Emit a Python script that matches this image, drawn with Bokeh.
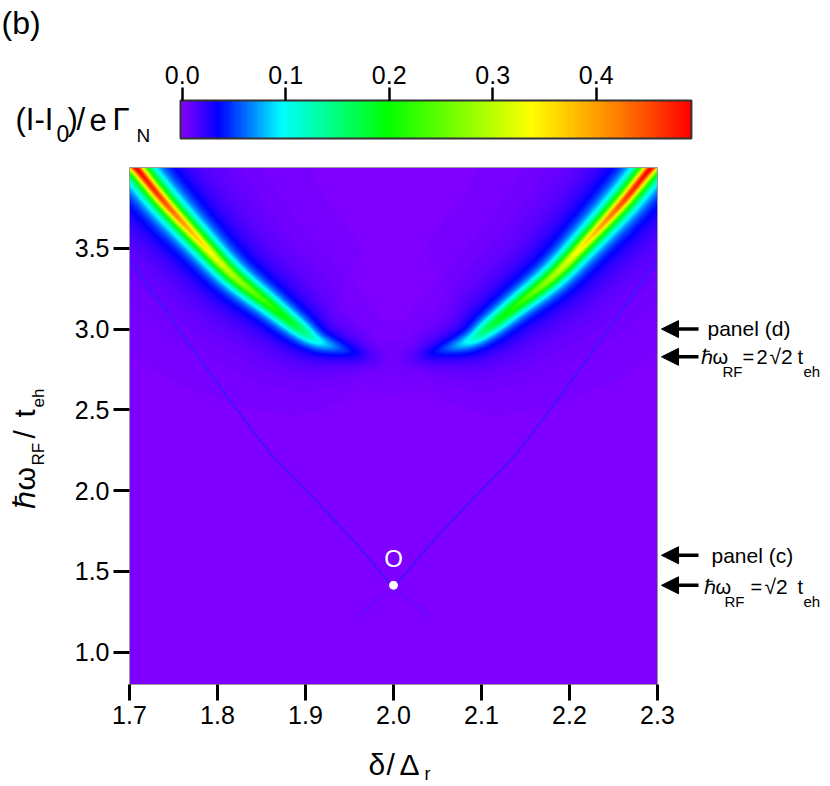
import numpy as np
from bokeh.plotting import figure
from bokeh.models import (Range1d, LinearColorMapper, FixedTicker, Label, Arrow,
                          NormalHead, NumeralTickFormatter, LinearAxis)
from bokeh.embed import file_html
from bokeh.resources import INLINE

FONT = "Liberation Sans"

# ---------------- data ----------------
delta_range = [1.7, 2.3]
omega_range = [0.8, 4.0]
x_ticks = [1.7, 1.8, 1.9, 2.0, 2.1, 2.2, 2.3]
y_ticks = [1.0, 1.5, 2.0, 2.5, 3.0, 3.5]
cbar_ticks = [0.0, 0.1, 0.2, 0.3, 0.4]
cbar_max = 0.492

# colour table of the scale bar (value -> colour)
cmap_values = [0.0, 0.034, 0.095, 0.198, 0.337, 0.42, 0.492]
cmap_colors = ["#7f00ff", "#0000ff", "#00ffff", "#00ff00", "#ffff00", "#ff8000", "#ff0000"]

# crest of the left resonance band (the right one is its mirror about delta = 2)
ridge_delta = [1.700, 1.711, 1.739, 1.777, 1.817, 1.860, 1.891, 1.913, 1.940, 1.974]
ridge_omega = [4.04, 3.975, 3.789, 3.562, 3.335, 3.147, 3.013, 2.930, 2.879, 2.827]
ridge_peak = [0.49, 0.47, 0.43, 0.35, 0.28, 0.21, 0.16, 0.10, 0.05, 0.012]
ridge_width = [0.0080, 0.0080, 0.0082, 0.0085, 0.0088, 0.0091, 0.0094, 0.0098, 0.0104, 0.0120]

# thin resonance line (left branch; right branch mirrored)
thin_delta = [1.700, 1.781, 1.8486, 1.8716, 1.9474, 2.0]
thin_omega = [3.43, 2.806, 2.31, 2.165, 1.733, 1.40]
thin_tail_delta = [2.0, 2.043]
thin_tail_omega = [1.40, 1.217]

# markers
marker_omega = [3.0, 2.828, 1.6, 1.414]
point_delta = [2.0]
point_omega = [1.414]
point_label_omega = [1.58]
center_delta = 2.0

# ---------------- geometry (screen px) ----------------
W, H = 830, 786
MAIN_L, MAIN_R, MAIN_T, MAIN_B = 129, 657, 167, 684
PXU_X = (MAIN_R - MAIN_L) / (delta_range[1] - delta_range[0])
PXU_Y = (MAIN_B - MAIN_T) / (omega_range[1] - omega_range[0])
x0 = delta_range[0] - MAIN_L / PXU_X
x1 = delta_range[0] + (W - MAIN_L) / PXU_X
y0 = omega_range[0] - (H - MAIN_B) / PXU_Y
y1 = omega_range[1] + MAIN_T / PXU_Y


def mx(sx):
    return delta_range[0] + (sx - MAIN_L) / PXU_X


def my(sy):
    return omega_range[0] + (MAIN_B - sy) / PXU_Y


# colour-bar scale: value 0 at x=181.7 px, 1035 px per unit
CB_ZERO, CB_PXU = 181.7, 1035.0
CB_T, CB_B = 100, 138
cb_x0 = -CB_ZERO / CB_PXU
cb_x1 = (W - CB_ZERO) / CB_PXU
cb_start = (180 - CB_ZERO) / CB_PXU

# ---------------- palette ----------------
def hex2rgb(h):
    return [int(h[i:i + 2], 16) for i in (1, 3, 5)]


rgb = np.array([hex2rgb(c) for c in cmap_colors], dtype=float)
vals = np.linspace(0, cbar_max, 256)
palette = []
for v in vals:
    r = np.interp(v, cmap_values, rgb[:, 0])
    g = np.interp(v, cmap_values, rgb[:, 1])
    b = np.interp(v, cmap_values, rgb[:, 2])
    palette.append("#%02x%02x%02x" % (int(round(r)), int(round(g)), int(round(b))))
mapper = LinearColorMapper(palette=palette, low=0.0, high=cbar_max)

# ---------------- field built from the crest readings ----------------
nx, ny = MAIN_R - MAIN_L, MAIN_B - MAIN_T
xs = np.linspace(delta_range[0], delta_range[1], nx)
ys = np.linspace(omega_range[0], omega_range[1], ny)
X, Y = np.meshgrid(xs, ys)
PX, PY = X * PXU_X, Y * PXU_Y
HALO_AMP, HALO_SCALE = 0.05, 4.0


def smooth_path(a, n=12):
    """Catmull-Rom resampling of a list of readings (for drawing only)."""
    a = np.asarray(a, dtype=float)
    ext = np.concatenate([[2 * a[0] - a[1]], a, [2 * a[-1] - a[-2]]])
    out = []
    for i in range(1, len(ext) - 2):
        p0, p1, p2, p3 = ext[i - 1], ext[i], ext[i + 1], ext[i + 2]
        for t in np.linspace(0, 1, n, endpoint=False):
            out.append(0.5 * ((2 * p1) + (-p0 + p2) * t + (2 * p0 - 5 * p1 + 4 * p2 - p3) * t * t
                              + (-p0 + 3 * p1 - 3 * p2 + p3) * t ** 3))
    out.append(a[-1])
    return np.array(out)


def band(rd, ro, pk, wd):
    rd, ro, pk, wd = (smooth_path(v) for v in (rd, ro, pk, wd))
    best = np.full(X.shape, np.inf)
    bpk = np.zeros(X.shape)
    bw = np.ones(X.shape)
    for i in range(len(rd) - 1):
        ax_, ay_ = rd[i] * PXU_X, ro[i] * PXU_Y
        bx_, by_ = rd[i + 1] * PXU_X, ro[i + 1] * PXU_Y
        vx, vy = bx_ - ax_, by_ - ay_
        t = np.clip(((PX - ax_) * vx + (PY - ay_) * vy) / (vx * vx + vy * vy), 0, 1)
        dx = PX - (ax_ + t * vx)
        dy = PY - (ay_ + t * vy)
        d2 = dx * dx + dy * dy
        m = d2 < best
        best = np.where(m, d2, best)
        bpk = np.where(m, pk[i] + t * (pk[i + 1] - pk[i]), bpk)
        bw = np.where(m, (wd[i] + t * (wd[i + 1] - wd[i])) * PXU_X, bw)
    bpk = np.maximum(bpk, 0)
    core = bpk / (1.0 + best / (bw * bw))
    halo = HALO_AMP * bpk / (1.0 + best / (HALO_SCALE * bw) ** 2)
    return core + halo


mirror_delta = [2 * center_delta - d for d in ridge_delta]
Z = band(ridge_delta, ridge_omega, ridge_peak, ridge_width) + \
    band(mirror_delta, ridge_omega, ridge_peak, ridge_width)

# ---------------- figure ----------------
p = figure(width=W, height=H, output_backend="svg", toolbar_location=None,
           x_range=Range1d(x0, x1), y_range=Range1d(y0, y1),
           x_axis_location=None, y_axis_location=None,
           min_border_left=0, min_border_right=0, min_border_top=0, min_border_bottom=0)
p.extra_x_ranges = {"cbar": Range1d(cb_x0, cb_x1)}
p.grid.visible = False
p.outline_line_color = None
p.background_fill_color = "white"
p.border_fill_color = "white"

# map
p.image(image=[Z], x=delta_range[0], y=omega_range[0],
        dw=delta_range[1] - delta_range[0], dh=omega_range[1] - omega_range[0],
        color_mapper=mapper)

# thin resonance lines (smooth curve through the readings)
LC = "#3c14ff"
tl_d, tl_o = smooth_path(thin_delta, 8), smooth_path(thin_omega, 8)
p.line(tl_d, tl_o, line_color=LC, line_width=1.6)
p.line(2 * center_delta - tl_d, tl_o, line_color=LC, line_width=1.6)
p.line(thin_tail_delta, thin_tail_omega, line_color=LC, line_width=1.3, line_alpha=0.45)
p.line([2 * center_delta - d for d in thin_tail_delta], thin_tail_omega,
       line_color=LC, line_width=1.3, line_alpha=0.45)

# map frame
p.quad(left=[delta_range[0]], right=[delta_range[1]], bottom=[omega_range[0]],
       top=[omega_range[1]], fill_color=None, line_color="#9a9a9a", line_width=1)

# white point and "O"
p.scatter(point_delta, point_omega, size=8, color="white")
p.add_layout(Label(x=point_delta[0], y=point_label_omega[0], text="O", text_color="white",
                   text_font=FONT, text_font_size="24px", text_align="center",
                   text_baseline="middle"))

# colour bar
grad = np.linspace(cb_start, cbar_max, 600)[None, :]
p.image(image=[grad], x=cb_start, y=my(CB_B), dw=cbar_max - cb_start, dh=my(CB_T) - my(CB_B),
        color_mapper=mapper, x_range_name="cbar")
p.quad(left=[cb_start], right=[cbar_max], bottom=[my(CB_B)], top=[my(CB_T)],
       fill_color=None, line_color="#333333", line_width=2, x_range_name="cbar")

# axes (fixed inside the full-canvas frame)
xa = LinearAxis(fixed_location=omega_range[0], ticker=FixedTicker(ticks=x_ticks))
ya = LinearAxis(fixed_location=delta_range[0], ticker=FixedTicker(ticks=y_ticks))
cb_axis = LinearAxis(x_range_name="cbar", fixed_location=my(CB_T),
                     ticker=FixedTicker(ticks=cbar_ticks))
p.add_layout(xa, "below")
p.add_layout(ya, "left")
p.add_layout(cb_axis, "above")
for axis in (xa, ya, cb_axis):
    axis.axis_line_color = None
    axis.major_tick_in = 0
    axis.minor_tick_line_color = None
    axis.major_label_text_font = FONT
    axis.major_label_text_font_size = "25px"
    axis.major_label_text_color = "black"
    axis.major_tick_line_color = "black"
    axis.formatter = NumeralTickFormatter(format="0.0")
xa.major_tick_out = 16
ya.major_tick_out = 16
xa.major_tick_line_width = 3
ya.major_tick_line_width = 3
cb_axis.major_tick_out = 13
cb_axis.major_tick_line_width = 2.5
xa.major_label_standoff = 5
ya.major_label_standoff = 4
cb_axis.major_label_standoff = 4

SHIFT = 0.28  # text sits this fraction of its size lower than its anchor


def mlabel(sx, sy, text, size, angle=0.0):
    if angle:
        sx = sx - SHIFT * size
    else:
        sy = sy - SHIFT * size
    p.add_layout(Label(x=mx(sx), y=my(sy), text=text, text_font=FONT,
                       text_font_size="%dpx" % size, text_color="black",
                       text_baseline="alphabetic", text_align="left", angle=angle))


# panel letter and colour-bar title  (I-I0)/eΓN
mlabel(1, 31, "(b)", 32)
mlabel(15, 128, "(I-I", 31)
mlabel(56, 139, "0", 23)
mlabel(67, 128, ")", 31)
mlabel(76, 128, "/", 31)
mlabel(89, 128, "e", 31)
mlabel(112, 128, "Γ", 31)
mlabel(136, 140, "N", 19)

# x axis label  δ/Δr
mlabel(368, 772, "δ", 30)
mlabel(386, 772, "/", 30)
mlabel(399, 772, "Δ", 30)
mlabel(424, 779, "r", 18)

# y axis label  ħω_RF / t_eh (rotated)
ROT = np.pi / 2
mlabel(32, 508, "ℏω", 30, angle=ROT)
mlabel(43, 465, "RF", 17, angle=ROT)
mlabel(32, 438, "/", 30, angle=ROT)
mlabel(32, 417, "t", 30, angle=ROT)
mlabel(43, 407, "eh", 17, angle=ROT)

# arrows on the right
for yv in marker_omega:
    p.add_layout(Arrow(end=NormalHead(size=17, fill_color="black", line_color="black"),
                       x_start=mx(698), x_end=mx(661), y_start=yv, y_end=yv,
                       line_width=3.5, line_color="black"))

mlabel(707, 334, "panel (d)", 21)
mlabel(700, 362, "ℏω", 20)
mlabel(722, 375, "RF", 15)
mlabel(742, 362, "=", 20)
mlabel(756, 362, "2", 20)
mlabel(769, 362, "√2", 21)
mlabel(797, 362, "t", 20)
mlabel(803, 375, "eh", 15)

mlabel(711, 561, "panel (c)", 21)
mlabel(703, 592, "ℏω", 20)
mlabel(724, 605, "RF", 15)
mlabel(750, 592, "=", 20)
mlabel(764, 592, "√2", 21)
mlabel(797, 592, "t", 20)
mlabel(803, 605, "eh", 15)

open("out.html", "w").write(file_html(p, INLINE))
